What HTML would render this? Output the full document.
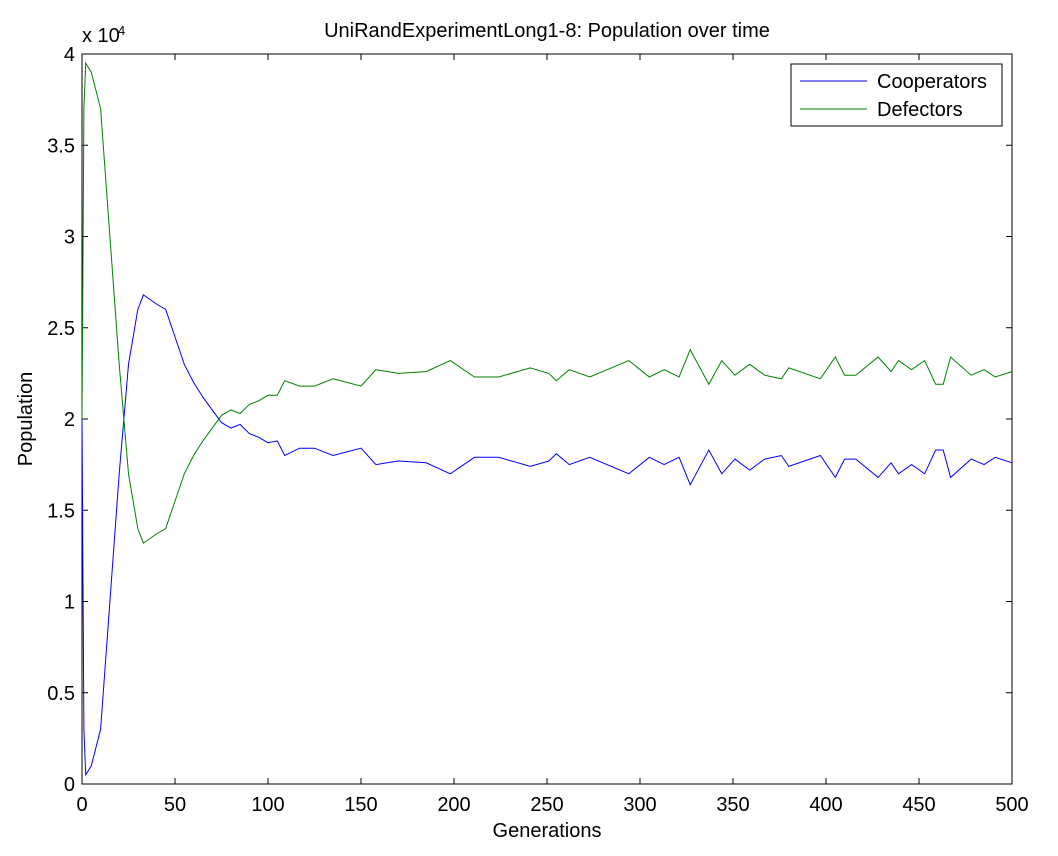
<!DOCTYPE html>
<html><head><meta charset="utf-8"><style>
body{margin:0;background:#fff;}
svg{display:block;font-family:"Liberation Sans",Arial,sans-serif;}
</style></head><body>
<svg id="chart" width="1058" height="856">
<rect width="1058" height="856" fill="#fff"/>
<g id="plot"></g>
</svg>
<script>
const gens=[0,1,2,5,10,15,20,25,30,33,40,45,50,55,60,65,70,75,80,85,90,95,100,105,109,117,125,135,150,158,170,185,198,211,224,241,251,255,262,273,294,305,313,321,327,337,344,351,359,367,376,380,397,405,410,416,428,435,439,446,453,459,463,467,478,485,491,500];
const coop=[20000,3000,500,1000,3000,10000,17000,23000,26000,26800,26300,26000,24500,23000,22000,21200,20500,19800,19500,19700,19200,19000,18700,18800,18000,18400,18400,18000,18400,17500,17700,17600,17000,17900,17900,17400,17700,18100,17500,17900,17000,17900,17500,17900,16400,18300,17000,17800,17200,17800,18000,17400,18000,16800,17800,17800,16800,17600,17000,17500,17000,18300,18300,16800,17800,17500,17900,17600];
const defe=[20000,37000,39500,39000,37000,30000,23000,17000,14000,13200,13700,14000,15500,17000,18000,18800,19500,20200,20500,20300,20800,21000,21300,21300,22100,21800,21800,22200,21800,22700,22500,22600,23200,22300,22300,22800,22500,22100,22700,22300,23200,22300,22700,22300,23800,21900,23200,22400,23000,22400,22200,22800,22200,23400,22400,22400,23400,22600,23200,22700,23200,21900,21900,23400,22400,22700,22300,22600];
const xTicks=[0,50,100,150,200,250,300,350,400,450,500];
const yTicks=[0,0.5,1,1.5,2,2.5,3,3.5,4];
const X0=82,X1=1012,Y0=784,Y1=54;
const sx=v=>X0+(v/500)*(X1-X0);
const sy=v=>Y0-(v/40000)*(Y0-Y1);
const NS="http://www.w3.org/2000/svg";
const g=document.getElementById('plot');
function mk(t,a,txt){const e=document.createElementNS(NS,t);for(const k in a)e.setAttribute(k,a[k]);if(txt!==undefined)e.textContent=txt;g.appendChild(e);return e;}
let e;
e=mk('rect',{x:X0,y:Y1,width:X1-X0,height:Y0-Y1,fill:'#fff',stroke:'#000','stroke-width':1});


xTicks.forEach(t=>{
 e=mk('path',{d:`M${sx(t)},${Y0}v-6M${sx(t)},${Y1}v6`,stroke:'#000'});
 
 
 e=mk('text',{x:sx(t),y:Y0+27,'text-anchor':'middle','font-size':20},String(t));
 
 
});
yTicks.forEach(t=>{
 const y=sy(t*10000);
 e=mk('path',{d:`M${X0},${y}h6M${X1},${y}h-6`,stroke:'#000'});
 
 
 e=mk('text',{x:X0-7,y:y+7,'text-anchor':'end','font-size':20},String(t));
 
 
});
e=mk('text',{x:82,y:42,'font-size':20},'x 10');


e=mk('text',{x:118,y:35,'font-size':13},'4');


function line(arr,col,name){
 const d=gens.map((gg,i)=>(i?'L':'M')+sx(gg).toFixed(1)+','+sy(arr[i]).toFixed(1)).join('');
 e=mk('path',{d:d,fill:'none',stroke:col,'stroke-width':1});
 
 
}
line(coop,'#0000ff','cooperators-line');
line(defe,'#008000','defectors-line');
e=mk('text',{x:547,y:37,'text-anchor':'middle','font-size':20},'UniRandExperimentLong1-8: Population over time');


e=mk('text',{x:547,y:837,'text-anchor':'middle','font-size':20},'Generations');


e=mk('text',{x:32,y:419,'text-anchor':'middle','font-size':20,transform:'rotate(-90 32 419)'},'Population');


e=mk('rect',{x:791,y:64,width:211,height:62,fill:'#fff',stroke:'#000'});


e=mk('path',{d:'M800,81h67',stroke:'#0000ff'});


e=mk('text',{x:877,y:88,'font-size':20},'Cooperators');


e=mk('path',{d:'M800,109h67',stroke:'#008000'});


e=mk('text',{x:877,y:116,'font-size':20},'Defectors');


</script>
</body></html>
